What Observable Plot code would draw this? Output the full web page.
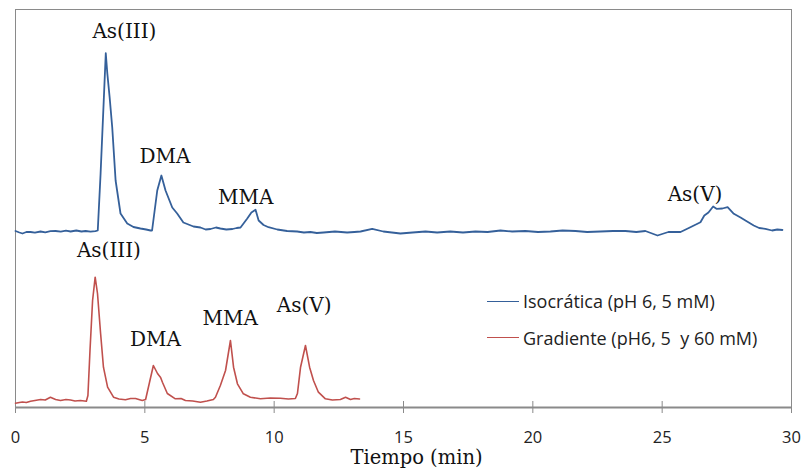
<!DOCTYPE html>
<html>
<head>
<meta charset="utf-8">
<script src="https://cdn.jsdelivr.net/npm/d3@7"></script>
<script src="https://cdn.jsdelivr.net/npm/@observablehq/plot@0.6"></script>
<style>
  html, body { margin: 0; padding: 0; background: #fff; }
  #wrap { position: relative; width: 804px; height: 469px; }
  svg text { white-space: pre; }
  #legend { position: absolute; left: 487px; top: 290px; font-family: "Open Sans", sans-serif; font-size: 18px; color: #222; }
  #legend .row { display: flex; align-items: center; height: 22px; margin-bottom: 14.5px; white-space: pre; }
  #legend .sw { display: inline-block; width: 32px; height: 0; border-top: 1.6px solid; margin-right: 4px; }
</style>
</head>
<body>
<div id="wrap"></div>
<script>
// Isocrática (blue) trace: time (min) and signal (arbitrary units)
const blueTime = [0.00,0.15,0.27,0.42,0.58,0.75,0.97,1.15,1.35,1.55,1.75,1.95,2.13,2.35,2.55,2.71,2.90,3.09,3.18,3.29,3.40,3.49,3.55,3.64,3.74,3.87,4.06,4.32,4.56,4.83,5.05,5.22,5.28,5.48,5.64,5.80,6.06,6.25,6.49,6.88,7.15,7.35,7.54,7.75,7.92,8.15,8.39,8.55,8.70,8.96,9.12,9.28,9.40,9.59,9.78,10.12,10.50,10.89,11.15,11.40,11.65,11.91,12.35,12.82,13.10,13.34,13.79,14.22,14.55,14.88,15.35,15.85,16.30,16.81,17.30,17.78,18.25,18.75,19.20,19.71,20.20,20.68,21.15,21.65,22.10,22.61,23.10,23.58,24.00,24.35,24.82,25.24,25.71,26.09,26.48,26.63,26.79,26.97,27.10,27.33,27.53,27.77,28.03,28.22,28.54,28.75,28.99,29.25,29.45,29.65];
const blueSignal = [176.5,175,174,175.5,175.5,174.8,176,175.2,176.3,176.5,175.8,176.8,176,177,176,176.5,175.8,176.3,177,234,300,354.3,334,310,280,227,194,184,180.5,179,178,177,177,217,232,217,200,194,185,181,180,178,178.5,180,179,178,178.5,179.5,180,189,195,197.7,187,182.5,180.3,178,176.5,176,175,175.5,174.5,175,176,175,175.5,176,178.7,176,175,174,175,176,175,176,175,176,175.5,177,176,176.5,175.5,176,177,176.5,175.5,176,176.5,176.5,175.5,176.5,172,175.5,175.5,180.3,185.3,192,195,201,198.7,199,200.3,193.7,190,187,182,179.5,178.7,177,178,177.5];

// Gradiente (red) trace
const redTime = [0.00,0.15,0.27,0.42,0.58,0.75,0.97,1.15,1.35,1.55,1.74,1.95,2.13,2.30,2.51,2.74,2.80,2.88,2.98,3.08,3.17,3.29,3.40,3.56,3.79,4.00,4.25,4.45,4.64,4.90,5.03,5.18,5.33,5.49,5.61,5.68,5.87,6.18,6.40,6.57,6.85,7.15,7.40,7.65,7.73,7.92,8.12,8.31,8.43,8.58,8.81,9.08,9.47,9.85,10.24,10.55,10.82,10.90,11.02,11.21,11.37,11.52,11.71,11.98,12.25,12.56,12.76,12.95,13.10,13.30];
const redSignal = [4.3,5,5.5,5,6.3,7,8,7.5,10.3,8,7,8,7.5,6.5,7,6.3,12,57,107,130.3,114,74,40.3,20.3,10.3,8.5,7.7,9,9,7,8,25,42,34,30,25.3,14,8.7,9,7,6.5,5.3,6.5,8,10.3,22,37,67,40.3,23.7,13.7,10.3,8.7,9.5,9.3,8.5,9,14,40.3,62,40.3,27,15.3,8.7,7.5,8,10.3,8,9,8.5];

// Peak annotations
const labelText = ["As(III)","DMA","MMA","As(V)","As(III)","DMA","MMA","As(V)"];
const labelTime = [4.21,5.78,8.90,26.27,3.61,5.41,8.30,11.16];
const labelSignal = [376,251,210,213,157,67.5,89,102];

// Axis ticks and legend text
const xTicks = [0,5,10,15,20,25,30];
const seriesNames = ["Isocrática (pH 6, 5 mM)","Gradiente (pH6, 5  y 60 mM)"];
const seriesColors = ["#35609A","#C0504D"];

const blue = blueTime.map((t,i) => ({t, s: blueSignal[i]}));
const red = redTime.map((t,i) => ({t, s: redSignal[i]}));
const labels = labelText.map((text,i) => ({text, t: labelTime[i], s: labelSignal[i]}));

const chart = Plot.plot({
  width: 804,
  height: 469,
  marginLeft: 15,
  marginRight: 13,
  marginTop: 9,
  marginBottom: 62,
  x: {domain: [0, 30]},
  y: {domain: [0, 398], axis: null},
  marks: [
    Plot.frame({stroke: "#8a8a8a"}),
    Plot.ruleY([0], {stroke: "#8a8a8a", strokeWidth: 2}),
    Plot.ruleX(xTicks, {y1: 0, y2: 6, stroke: "#8a8a8a"}),
    Plot.axisX({ticks: xTicks, tickSize: 6, tickPadding: 18, tickFormat: d => String(d), stroke: "#8a8a8a", fill: "#222", fontFamily: "Open Sans", fontSize: 16.5, label: null}),
    Plot.text(["Tiempo (min)"], {frameAnchor: "bottom", lineAnchor: "middle", dx: 13, dy: 50.5, fontFamily: "DejaVu Serif", fontSize: 19.5, fill: "#111"}),
    Plot.line(blue, {x: "t", y: "s", stroke: seriesColors[0], strokeWidth: 1.8}),
    Plot.line(red, {x: "t", y: "s", stroke: seriesColors[1], strokeWidth: 1.6}),
    Plot.text(labels, {x: "t", y: "s", text: "text", fontFamily: "DejaVu Serif", fontSize: 20, fill: "#111"})
  ]
});

const wrap = document.getElementById("wrap");
wrap.appendChild(chart);
const legend = document.createElement("div");
legend.id = "legend";
seriesNames.forEach((name, i) => {
  const row = document.createElement("div");
  row.className = "row";
  const sw = document.createElement("span");
  sw.className = "sw";
  sw.style.borderColor = seriesColors[i];
  const label = document.createElement("span");
  label.textContent = name;
  row.appendChild(sw);
  row.appendChild(label);
  legend.appendChild(row);
});
wrap.appendChild(legend);
</script>
</body>
</html>
